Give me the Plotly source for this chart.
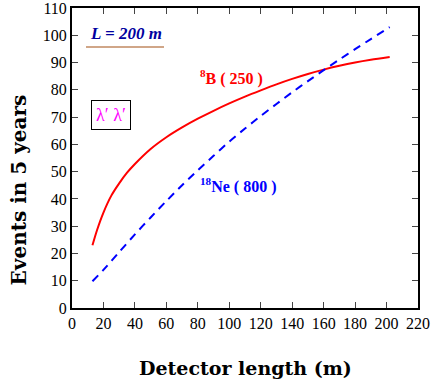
import plotly.graph_objects as go

# Events in 5 years vs detector length
length_b8 = [13, 16, 20, 25, 30, 35, 40, 50, 60, 70, 80, 90, 100, 110, 120, 130, 140, 150, 160, 170, 180, 190, 202]
events_b8 = [23, 28.7, 35, 41.2, 45.7, 49.6, 52.8, 58.3, 62.6, 66.2, 69.4, 72.3, 75, 77.5, 79.8, 82, 84, 85.8, 87.4, 88.8, 90, 91, 92]

length_ne18 = [13, 20, 30, 40, 50, 60, 70, 80, 90, 100, 110, 120, 130, 140, 150, 160, 170, 180, 190, 202]
events_ne18 = [9.8, 14, 20.5, 27, 33.2, 39.2, 45, 50.5, 55.8, 61, 65.8, 70.4, 74.8, 79.1, 83.2, 87.2, 91.1, 94.9, 98.6, 103]

x_ticks = list(range(0, 221, 20))
y_ticks = list(range(0, 111, 10))

SERIF = "Liberation Serif, Times New Roman, serif"
TITLE_FONT = "DejaVu Serif, serif"

fig = go.Figure()
fig.add_trace(go.Scatter(x=length_b8, y=events_b8, mode="lines",
                         line=dict(color="#FF0000", width=2, shape="spline", smoothing=0.8)))
fig.add_trace(go.Scatter(x=length_ne18, y=events_ne18, mode="lines",
                         line=dict(color="#0000FF", width=2, dash="8px,6px", shape="spline", smoothing=0.8)))

axis_common = dict(
    showline=True, linecolor="black", linewidth=2, mirror="allticks",
    ticks="inside", ticklen=6, tickcolor="#444444", tickwidth=1,
    showgrid=False, zeroline=False, automargin=False, ticklabeloverflow="allow",
    tickfont=dict(family=SERIF, size=16, color="black"),
)
fig.update_layout(
    width=436, height=382,
    margin=dict(l=72, r=18, t=8, b=74),
    plot_bgcolor="white", paper_bgcolor="white",
    showlegend=False,
    xaxis=dict(range=[0, 220], tickvals=x_ticks, **axis_common),
    yaxis=dict(range=[0, 110], tickvals=y_ticks, **axis_common),
)

# axis titles (placed by hand to sit where the original has them)
fig.add_annotation(x=0.5, y=-0.2, xref="paper", yref="paper", yanchor="middle",
                   text="<b>Detector length (m)</b>", showarrow=False,
                   font=dict(family=TITLE_FONT, size=19, color="black"))
fig.add_annotation(x=-0.152, y=(308 - 190) / 300, xref="paper", yref="paper",
                   xanchor="center", yanchor="middle",
                   text="<b>Events in 5 years</b>", textangle=-90, showarrow=False,
                   font=dict(family=TITLE_FONT, size=20, color="black"))

fig.add_annotation(x=34.3, y=100.8, text="<b><i>L = 200 m</i></b>", showarrow=False,
                   font=dict(family=SERIF, size=17, color="#0000A0"))
fig.add_shape(type="line", x0=8.9, x1=58.5, y0=95.7, y1=95.7,
              line=dict(color="#C08860", width=1.5))

fig.add_annotation(x=80, y=84.5, xanchor="left", text="<b><sup>8</sup>B ( 250 )</b>", showarrow=False,
                   font=dict(family=SERIF, size=16, color="#FF0000"))
fig.add_annotation(x=80, y=45, xanchor="left", text="<b><sup>18</sup>Ne ( 800 )</b>", showarrow=False,
                   font=dict(family=SERIF, size=16, color="#0000FF"))
fig.add_annotation(x=24.8, y=70.6, text="λ′ λ′", showarrow=False,
                   font=dict(family=SERIF, size=18, color="#FF00FF"),
                   bordercolor="black", borderwidth=1, borderpad=4, bgcolor="white")

fig.write_html("out.html", config={"displayModeBar": False},
               post_script="document.body.style.margin='0';")
